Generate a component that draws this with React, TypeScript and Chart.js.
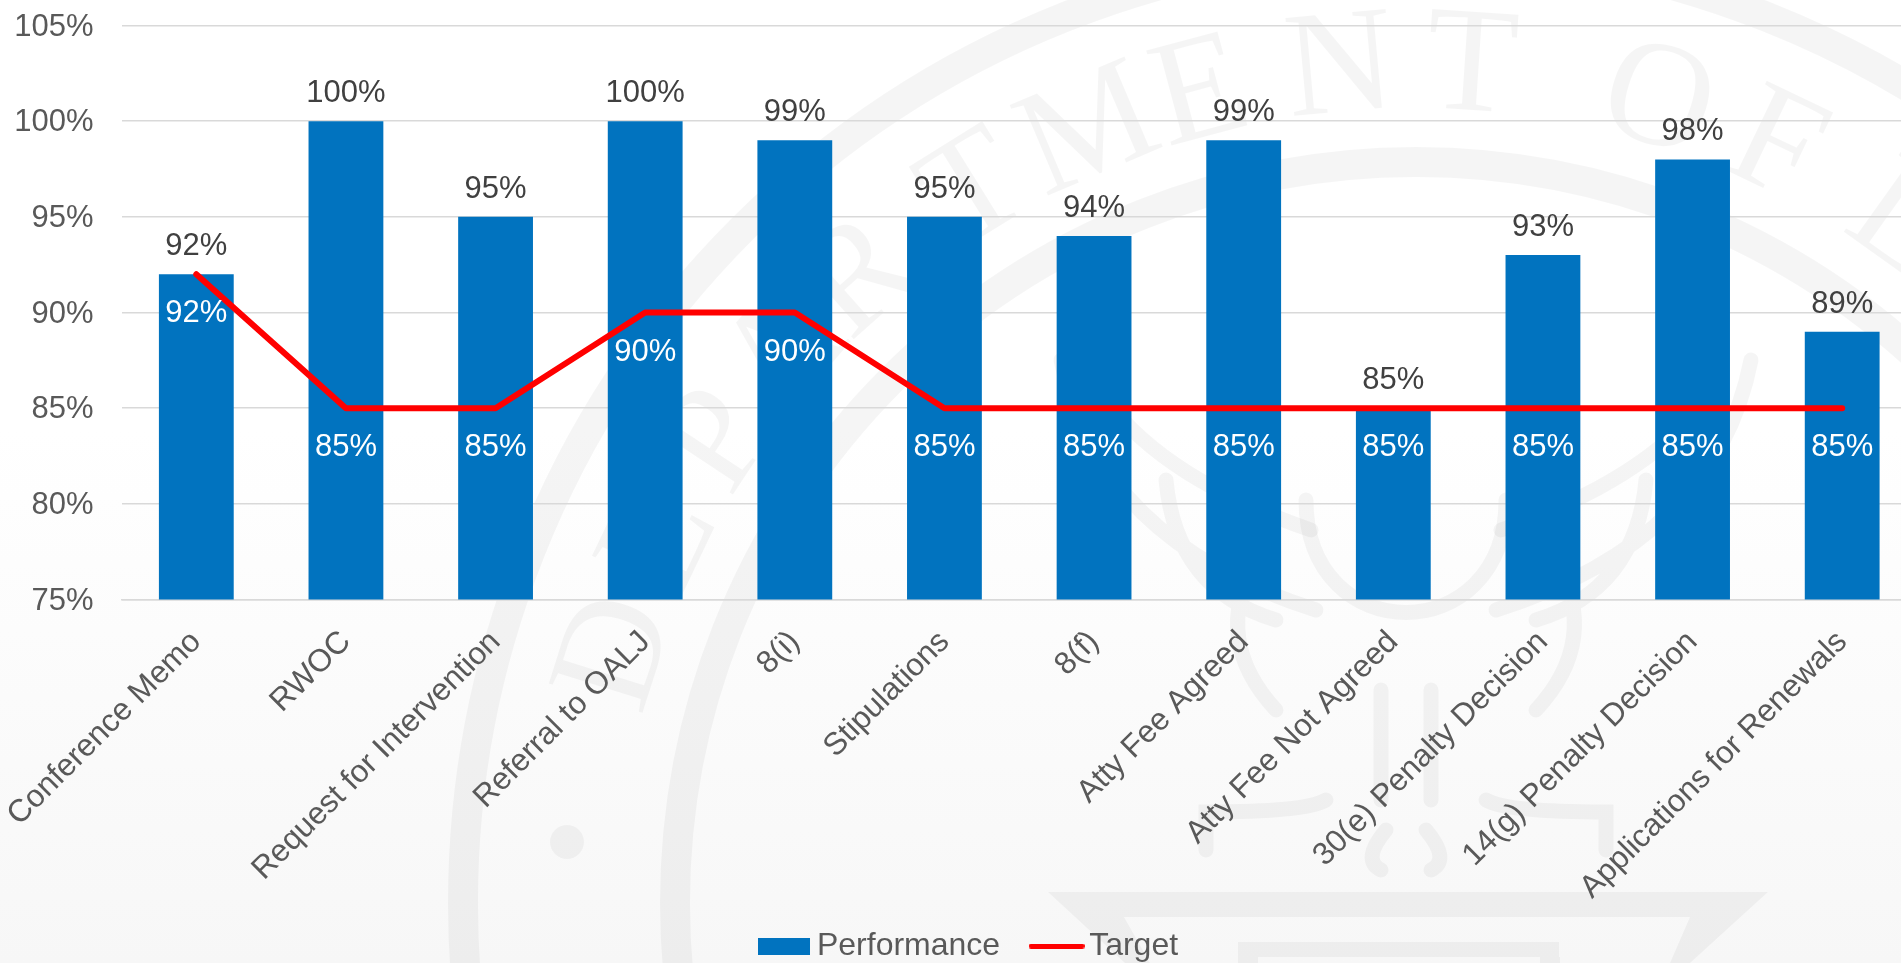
import React, { useEffect, useRef } from "react";
import { Chart, registerables } from "chart.js";

Chart.register(...registerables);

const categories = [
  "Conference Memo", "RWOC", "Request for Intervention", "Referral to OALJ", "8(i)", "Stipulations",
  "8(f)", "Atty Fee Agreed", "Atty Fee Not Agreed", "30(e) Penalty Decision", "14(g) Penalty Decision",
  "Applications for Renewals",
];
const performance = [92, 100, 95, 100, 99, 95, 94, 99, 85, 93, 98, 89];
const target = [92, 85, 85, 90, 90, 85, 85, 85, 85, 85, 85, 85];
const sealLetters: [string, number][] = [
  ["D", -72.6], ["E", -64.5], ["P", -56.5], ["A", -49], ["R", -41.7], ["T", -31.8], ["M", -23],
  ["E", -14.9], ["N", -5.2], ["T", 3.8], ["O", 16.8], ["F", 25.5], ["L", 35.5],
];

const FONT = '"Liberation Sans", Arial, sans-serif';
const BLUE = "#0173bf";
const RED = "#ff0000";

function swatch(w: number, h: number, color: string, round: boolean) {
  const c = document.createElement("canvas");
  c.width = w;
  c.height = h;
  const g = c.getContext("2d")!;
  g.fillStyle = color;
  if (round) {
    g.beginPath();
    g.roundRect(0, 0, w, h, h / 2);
    g.fill();
  } else g.fillRect(0, 0, w, h);
  return c;
}

const background = {
  id: "background",
  beforeDraw(chart: any) {
    const { ctx, width, height } = chart;
    ctx.save();
    const grad = ctx.createLinearGradient(0, 430, 0, 963);
    grad.addColorStop(0, "#ffffff");
    grad.addColorStop(1, "#f7f7f7");
    ctx.fillStyle = grad;
    ctx.fillRect(0, 0, width, height);

    const cx = 1416;
    const cy = 903;
    const ink = "rgba(0,0,0,0.04)";
    ctx.strokeStyle = ink;
    ctx.fillStyle = ink;
    ctx.lineWidth = 30;
    ctx.beginPath();
    ctx.arc(cx, cy, 953, 0, Math.PI * 2);
    ctx.stroke();
    ctx.beginPath();
    ctx.arc(cx, cy, 741, 0, Math.PI * 2);
    ctx.stroke();

    ctx.font = '150px "Liberation Serif", serif';
    ctx.textAlign = "center";
    ctx.textBaseline = "alphabetic";
    for (const [ch, deg] of sealLetters) {
      ctx.save();
      ctx.translate(cx, cy);
      ctx.rotate((deg * Math.PI) / 180);
      ctx.fillText(ch, 0, -795);
      ctx.restore();
    }

    ctx.beginPath();
    ctx.ellipse(567, 842, 17, 17, 0, 0, Math.PI * 2);
    ctx.fill();

    // eagle, in broad strokes
    const ex = 1406;
    ctx.lineWidth = 15;
    ctx.lineCap = "round";
    for (const s of [-1, 1]) {
      const p = (x: number) => ex + s * x;
      ctx.beginPath();
      ctx.moveTo(p(90), 610);
      ctx.quadraticCurveTo(p(310), 540, p(345), 360);
      ctx.moveTo(p(95), 530);
      ctx.quadraticCurveTo(p(240), 480, p(300), 400);
      ctx.moveTo(p(240), 480);
      ctx.quadraticCurveTo(p(230), 590, p(130), 620);
      ctx.moveTo(p(150), 560);
      ctx.quadraticCurveTo(p(195), 640, p(130), 710);
      ctx.moveTo(p(80), 800);
      ctx.quadraticCurveTo(p(100), 812, p(200), 812);
      ctx.lineTo(p(200), 850);
      ctx.moveTo(p(25), 690);
      ctx.lineTo(p(25), 800);
      ctx.moveTo(p(20), 830);
      ctx.quadraticCurveTo(p(45), 860, p(25), 870);
      ctx.stroke();
    }
    ctx.beginPath();
    ctx.moveTo(ex - 100, 500);
    ctx.bezierCurveTo(ex - 100, 650, ex + 100, 650, ex + 100, 500);
    ctx.stroke();

    // shield at the foot
    ctx.beginPath();
    ctx.moveTo(1048, 892);
    ctx.lineTo(1768, 892);
    ctx.lineTo(1690, 963);
    ctx.lineTo(1670, 963);
    ctx.lineTo(1690, 917);
    ctx.lineTo(1124, 917);
    ctx.lineTo(1150, 963);
    ctx.lineTo(1125, 963);
    ctx.closePath();
    ctx.fill();
    ctx.fillRect(1238, 942, 321, 15);
    ctx.fillRect(1238, 957, 20, 10);
    ctx.fillRect(1540, 957, 20, 10);
    ctx.restore();
  },
};

const valueLabels = {
  id: "valueLabels",
  afterDatasetsDraw(chart: any) {
    const { ctx } = chart;
    const bars = chart.getDatasetMeta(0).data;
    const pts = chart.getDatasetMeta(1).data;
    ctx.save();
    ctx.font = `31px ${FONT}`;
    ctx.textAlign = "center";
    ctx.textBaseline = "middle";
    ctx.fillStyle = "#404040";
    bars.forEach((el: any, i: number) => ctx.fillText(`${performance[i]}%`, el.x, el.y - 27.5));
    ctx.fillStyle = "#ffffff";
    pts.forEach((el: any, i: number) => ctx.fillText(`${target[i]}%`, el.x, el.y + 39.5));
    ctx.restore();
  },
};

export default function App() {
  const ref = useRef<HTMLCanvasElement>(null);
  useEffect(() => {
    const chart = new Chart(ref.current!, {
      type: "bar",
      data: {
        labels: categories,
        datasets: [
          { type: "bar", label: "Performance", data: performance, backgroundColor: BLUE, barPercentage: 0.5, categoryPercentage: 1, order: 2 },
          {
            type: "line", label: "Target", data: target, borderColor: RED, backgroundColor: RED, borderWidth: 6,
            borderCapStyle: "round", borderJoinStyle: "round", pointRadius: 0, tension: 0, order: 1,
          },
        ],
      },
      options: {
        responsive: false,
        animation: false,
        layout: { padding: { top: 25.5, right: 61, left: 29, bottom: 0 } },
        scales: {
          x: {
            grid: { display: false, drawTicks: false },
            border: { display: true, color: "#d9d9d9", width: 1.5 },
            ticks: { color: "#595959", font: { family: FONT, size: 31.5 }, minRotation: 45, maxRotation: 45, autoSkip: false, padding: 24 },
            afterFit(scale: any) {
              scale.height = 290.5;
              scale.paddingLeft = 0;
              scale.paddingRight = 0;
              scale._computeLabelArea = () => undefined;
            },
          },
          y: {
            min: 75,
            max: 105,
            grid: { color: "#d9d9d9", lineWidth: 1.5, drawTicks: false },
            border: { display: false },
            ticks: { stepSize: 5, color: "#595959", padding: 28, labelOffset: 1.5, font: { family: FONT, size: 31 }, callback: (v: any) => `${v}%` },
            afterFit(scale: any) {
              scale.width = 92.5;
              scale.paddingTop = 0;
              scale.paddingBottom = 0;
              scale._computeLabelArea = () => undefined;
            },
          },
        },
        plugins: {
          tooltip: { enabled: false },
          legend: {
            position: "bottom",
            labels: {
              color: "#595959",
              font: { family: FONT, size: 32 },
              usePointStyle: true,
              pointStyleWidth: 33,
              padding: 40,
              generateLabels: () => [
                { text: "Performance", fillStyle: BLUE, strokeStyle: BLUE, lineWidth: 0, pointStyle: swatch(52, 17, BLUE, false), datasetIndex: 0, hidden: false, fontColor: "#595959" },
                { text: "Target", fillStyle: RED, strokeStyle: RED, lineWidth: 0, pointStyle: swatch(56, 5, RED, true), datasetIndex: 1, hidden: false, fontColor: "#595959" },
              ],
            },
          },
        },
      },
      plugins: [background, valueLabels],
    } as any);
    return () => chart.destroy();
  }, []);
  return (
    <div style={{ position: "fixed", left: 0, top: 0, width: 1901, height: 963, overflow: "hidden" }}>
      <canvas ref={ref} width={1978} height={972} style={{ display: "block" }} />
    </div>
  );
}
